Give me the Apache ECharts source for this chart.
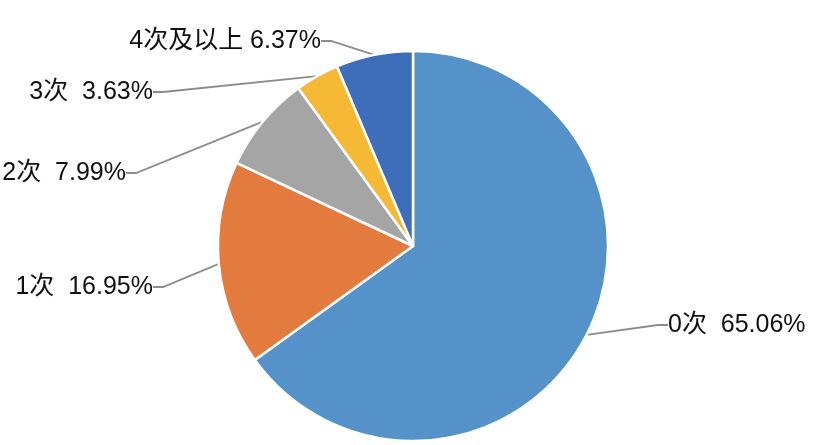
<!DOCTYPE html>
<html><head><meta charset="utf-8">
<script src="https://cdn.jsdelivr.net/npm/echarts@6/dist/echarts.min.js"></script>
<style>html,body{margin:0;padding:0;background:#fff}#c{width:829px;height:445px}</style>
</head><body><div id="c"></div>
<script>
const categories = ['0次', '1次', '2次', '3次', '4次及以上'];
const values = [65.06, 16.95, 7.99, 3.63, 6.37];
const labelTexts = ['0次  65.06%', '1次  16.95%', '2次  7.99%', '3次  3.63%', '4次及以上 6.37%'];
const colors = ['#5592C9', '#E37B3F', '#A5A5A5', '#F5B935', '#3E6EB9'];
const labelPos = [
  {x: 668, y: 325, align: 'left'},
  {x: 153, y: 287, align: 'right'},
  {x: 126, y: 173, align: 'right'},
  {x: 153, y: 92, align: 'right'},
  {x: 321, y: 41, align: 'right'}
];
const chart = echarts.init(document.getElementById('c'));
chart.setOption({
  animation: false,
  series: [{
    type: 'pie',
    center: [413, 246],
    radius: [0, 195],
    startAngle: 90,
    clockwise: true,
    data: categories.map((c, i) => ({name: c, value: values[i], itemStyle: {color: colors[i]}})),
    itemStyle: {borderColor: '#fff', borderWidth: 2.5},
    label: {
      formatter: p => labelTexts[p.dataIndex],
      fontFamily: "'Liberation Sans','Noto Sans CJK SC',sans-serif",
      fontSize: 25,
      color: '#111'
    },
    labelLine: {show: true, length: 15, length2: 10, lineStyle: {color: '#8c8c8c', width: 1.8}},
    labelLayout: p => ({x: labelPos[p.dataIndex].x, y: labelPos[p.dataIndex].y, align: labelPos[p.dataIndex].align, verticalAlign: 'middle'})
  }]
});
</script></body></html>
